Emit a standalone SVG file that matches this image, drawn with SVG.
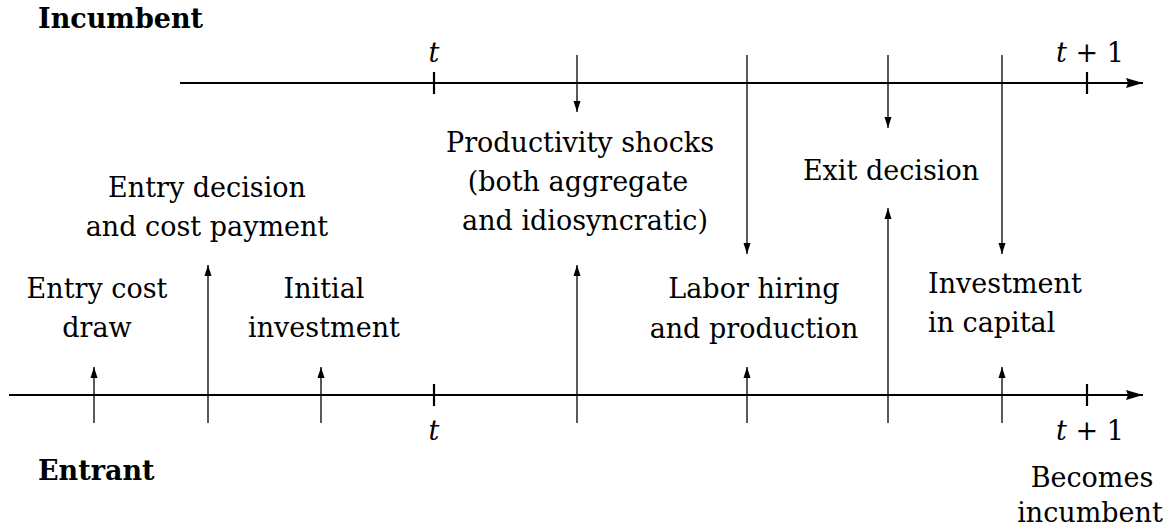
<svg xmlns="http://www.w3.org/2000/svg" width="1172" height="532" viewBox="0 0 1172 532">
<style>
text{font-family:"DejaVu Serif","Liberation Serif",serif;font-size:27px;fill:#000}
.c{text-anchor:middle}
.b{font-weight:bold}
.m{font-style:italic}
.ax{stroke:#000;stroke-width:2;fill:none}
.tk{stroke:#000;stroke-width:2.2}
.v{stroke:#000;stroke-width:1.3;fill:none}
.a{marker-end:url(#ah)}
</style>
<defs>
<marker id="ah" markerUnits="userSpaceOnUse" markerWidth="12" markerHeight="10" viewBox="0 0 12 10" refX="11" refY="5" orient="auto">
<path d="M0,1.5 L11,5 L0,8.5 Z" fill="#000"/>
</marker>
<marker id="axh" markerUnits="userSpaceOnUse" markerWidth="18" markerHeight="12" viewBox="0 0 18 12" refX="17" refY="6" orient="auto">
<path d="M0,1 L17,6 L0,11 L2,6 Z" fill="#000"/>
</marker>
</defs>
<g id="axes">
<line class="ax" x1="180" y1="83" x2="1143" y2="83" marker-end="url(#axh)"/>
<line class="ax" x1="9" y1="395" x2="1143" y2="395" marker-end="url(#axh)"/>
<line class="tk" x1="434" y1="72" x2="434" y2="94"/>
<line class="tk" x1="1087" y1="72" x2="1087" y2="94"/>
<line class="tk" x1="434" y1="384" x2="434" y2="406"/>
<line class="tk" x1="1087" y1="384" x2="1087" y2="406"/>
</g>
<g id="connectors">
<line class="v a" x1="577" y1="55" x2="577" y2="112"/>
<line class="v a" x1="747" y1="55" x2="747" y2="254"/>
<line class="v a" x1="888" y1="55" x2="888" y2="128"/>
<line class="v a" x1="1002" y1="55" x2="1002" y2="254"/>
<line class="v a" x1="94" y1="423" x2="94" y2="367"/>
<line class="v a" x1="208" y1="423" x2="208" y2="265"/>
<line class="v a" x1="321" y1="423" x2="321" y2="367"/>
<line class="v a" x1="577" y1="423" x2="577" y2="265"/>
<line class="v a" x1="747" y1="423" x2="747" y2="367"/>
<line class="v a" x1="888" y1="423" x2="888" y2="208"/>
<line class="v a" x1="1002" y1="423" x2="1002" y2="367"/>
</g>
<g id="incumbent-label"><text class="b" x="38" y="28">Incumbent</text></g>
<g id="entrant-label"><text class="b" x="38" y="480">Entrant</text></g>
<g id="time-labels">
<text class="c m" x="434" y="62">t</text>
<text class="c" x="1090" y="62"><tspan font-style="italic">t</tspan> + 1</text>
<text class="c m" x="434" y="440">t</text>
<text class="c" x="1090" y="440"><tspan font-style="italic">t</tspan> + 1</text>
</g>
<g id="entry-cost-draw"><text class="c" x="97" y="298">Entry cost</text><text class="c" x="97" y="337">draw</text></g>
<g id="entry-decision"><text class="c" x="207" y="197">Entry decision</text><text class="c" x="207" y="236">and cost payment</text></g>
<g id="initial-investment"><text class="c" x="324" y="298">Initial</text><text class="c" x="324" y="337">investment</text></g>
<g id="productivity-shocks"><text class="c" x="580" y="152">Productivity shocks</text><text class="c" x="578" y="191">(both aggregate</text><text class="c" x="585" y="230">and idiosyncratic)</text></g>
<g id="labor-hiring"><text class="c" x="754" y="298">Labor hiring</text><text class="c" x="754" y="338">and production</text></g>
<g id="exit-decision"><text class="c" x="891" y="180">Exit decision</text></g>
<g id="investment-capital"><text x="928" y="293">Investment</text><text x="928" y="332">in capital</text></g>
<g id="becomes-incumbent"><text class="c" x="1092" y="487">Becomes</text><text class="c" x="1090" y="522">incumbent</text></g>
</svg>
